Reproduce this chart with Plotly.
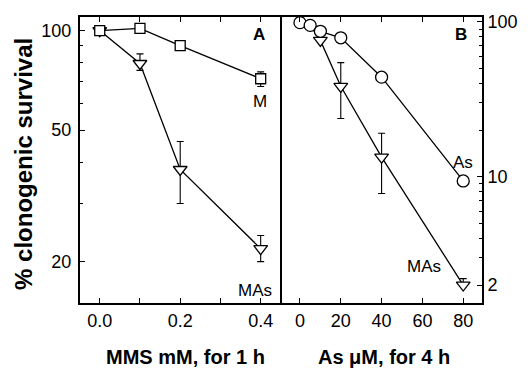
import plotly.graph_objects as go

# ---- data ----
mms_dose = [0.0, 0.1, 0.2, 0.4]
mms_M = [100, 101.5, 90, 71.5]
mms_M_err_up = [0, 3, 0, 3.5]
mms_M_err_dn = [0, 0, 0, 3.8]
mms_MAs = [100, 79.5, 38, 21.9]
mms_MAs_err_up = [0, 5.5, 8.2, 2.1]
mms_MAs_err_dn = [0, 3.7, 8.0, 1.9]

as_dose = [0, 5, 10, 20, 40, 80]
as_As = [99, 95, 87, 79, 44, 9.4]
as_MAs = [99, 95, 76, 38.4, 13.4, 2.0]
as_MAs_err_up = [0, 0, 0, 16.2, 5.7, 0.2]
as_MAs_err_dn = [0, 0, 0, 14.6, 5.6, 0]

xA_ticks = [0.0, 0.2, 0.4]
xA_labels = ["0.0", "0.2", "0.4"]
xB_ticks = [0, 20, 40, 60, 80]
yA_ticks = [20, 50, 100]
yB_ticks = [2, 10, 100]

FONT = "Liberation Sans, Arial, sans-serif"
LW = 1.3

fig = go.Figure()

err_style = dict(type="data", symmetric=False, color="black", thickness=1.1, width=3.5)

# Panel A
fig.add_trace(go.Scatter(x=mms_dose, y=mms_MAs, mode="lines+markers",
    line=dict(color="black", width=LW),
    marker=dict(symbol="triangle-down", size=12, color="white", opacity=1,
                line=dict(color="black", width=LW)),
    error_y=dict(array=mms_MAs_err_up, arrayminus=mms_MAs_err_dn, **err_style),
    xaxis="x", yaxis="y", showlegend=False))
fig.add_trace(go.Scatter(x=mms_dose, y=mms_M, mode="lines+markers",
    line=dict(color="black", width=LW),
    marker=dict(symbol="square", size=10, color="white", opacity=1,
                line=dict(color="black", width=LW)),
    error_y=dict(array=mms_M_err_up, arrayminus=mms_M_err_dn, **err_style),
    xaxis="x", yaxis="y", showlegend=False))

# Panel B
fig.add_trace(go.Scatter(x=as_dose, y=as_MAs, mode="lines+markers",
    line=dict(color="black", width=LW),
    marker=dict(symbol="triangle-down", size=[0, 0, 12, 12, 12, 12], color="white", opacity=1,
                line=dict(color="black", width=LW)),
    error_y=dict(array=as_MAs_err_up, arrayminus=as_MAs_err_dn, **err_style),
    xaxis="x2", yaxis="y2", showlegend=False))
fig.add_trace(go.Scatter(x=as_dose, y=as_As, mode="lines+markers",
    line=dict(color="black", width=LW),
    marker=dict(symbol="circle", size=12, color="white", opacity=1,
                line=dict(color="black", width=LW)),
    xaxis="x2", yaxis="y2", showlegend=False))

axis_common = dict(showgrid=False, zeroline=False, showline=True, linecolor="black", linewidth=2,
                   ticks="inside", ticklen=5, tickwidth=1, tickcolor="black",
                   tickfont=dict(family=FONT, size=18, color="black"))

fig.update_layout(
    width=530, height=370,
    margin=dict(l=80, r=42, t=15, b=67),
    paper_bgcolor="white", plot_bgcolor="white",
    font=dict(family=FONT, color="black"),
    xaxis=dict(domain=[0, 0.5025], range=[-0.049, 0.453], tickvals=xA_ticks, ticktext=xA_labels,
               mirror="ticks", anchor="y",
               minor=dict(tickvals=[0.1, 0.3], ticks="inside", ticklen=5, tickcolor="black"),
               **axis_common),
    yaxis=dict(domain=[0, 1], type="log", range=[1.176, 2.041], tickvals=yA_ticks,
               ticktext=[str(v) for v in yA_ticks], mirror=False, anchor="x", ticklabelstandoff=3,
               minor=dict(tickvals=[30, 40, 60, 70, 80, 90], ticks="inside", ticklen=3, tickcolor="black"),
               **axis_common),
    xaxis2=dict(domain=[0.5025, 1], range=[-8.8, 89.2], tickvals=xB_ticks,
                mirror="ticks", anchor="y2", **axis_common),
    yaxis2=dict(domain=[0, 1], type="log", range=[0.185, 2.032], tickvals=yB_ticks,
                ticktext=[str(v) for v in yB_ticks], side="right", mirror=True, anchor="x2",
                minor=dict(tickvals=[3, 4, 5, 6, 7, 8, 9, 20, 30, 40, 50, 60, 70, 80, 90],
                           ticks="inside", ticklen=3, tickcolor="black"),
                **axis_common),
)

def ann(text, x, y, xref, yref, size=17, bold=False, angle=0, xanchor="center"):
    fig.add_annotation(text=f"<b>{text}</b>" if bold else text, x=x, y=y, xref=xref, yref=yref,
                       showarrow=False, font=dict(family=FONT, size=size, color="black"),
                       textangle=angle, xanchor=xanchor, yanchor="middle")

ann("A", 0.888, 0.9375, "x domain", "y domain", size=17, bold=True)
ann("M", 0.893, 0.705, "x domain", "y domain")
ann("MAs", 0.868, 0.045, "x domain", "y domain")
ann("B", 0.897, 0.9375, "x2 domain", "y2 domain", size=17, bold=True)
ann("As", 0.904, 0.493, "x2 domain", "y2 domain")
ann("MAs", 0.709, 0.126, "x2 domain", "y2 domain")

# paper coords are relative to the plot area (x: 80..488 px, y: 15..303 px)
ann("% clonogenic survival", -0.142, 0.486, "paper", "paper", size=24, bold=True, angle=-90)
ann("MMS mM, for 1 h", 0.262, -0.1875, "paper", "paper", size=20, bold=True)
ann("As μM, for 4 h", 0.757, -0.1875, "paper", "paper", size=20, bold=True)

fig.write_html("out.html", config={"displayModeBar": False},
               post_script="document.body.style.margin='0';document.body.style.overflow='hidden';")
